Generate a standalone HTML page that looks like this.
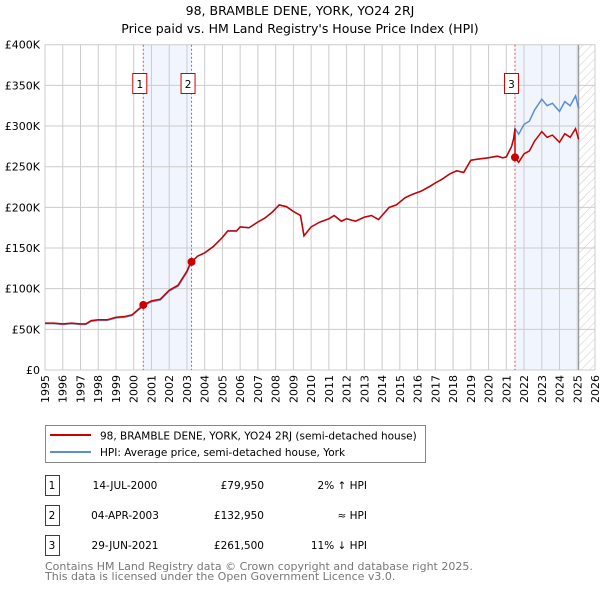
<!DOCTYPE html>
<html><head><meta charset="utf-8"><style>
body{margin:0;background:#fff;font-family:"DejaVu Sans","Liberation Sans",sans-serif;}
svg text{font-family:"DejaVu Sans","Liberation Sans",sans-serif;}
</style></head><body>
<svg id="c" width="600" height="590" xmlns="http://www.w3.org/2000/svg">
<defs><pattern id="hatch" width="6" height="6" patternUnits="userSpaceOnUse" patternTransform="rotate(45)"><line x1="0" y1="0" x2="0" y2="6" stroke="#ccc" stroke-width="1"/></pattern></defs>
<text x="300" y="15" text-anchor="middle" font-size="12.5">98, BRAMBLE DENE, YORK, YO24 2RJ</text>
<text x="300" y="33" text-anchor="middle" font-size="12.5">Price paid vs. HM Land Registry's House Price Index (HPI)</text>
<g id="plot"></g>
<g>
<rect x="45.5" y="425.5" width="380" height="37" fill="#fff" stroke="#888"/>
<line x1="50" y1="435" x2="91" y2="435" stroke="#cc0000" stroke-width="2"/>
<text x="100" y="439.5" font-size="10.5">98, BRAMBLE DENE, YORK, YO24 2RJ (semi-detached house)</text>
<line x1="50" y1="452" x2="91" y2="452" stroke="#5b8fd4" stroke-width="2"/>
<text x="100" y="456" font-size="10.5">HPI: Average price, semi-detached house, York</text>
</g>
<g id="table" font-size="10.5"></g>
<text x="45" y="570" font-size="11" fill="#777">Contains HM Land Registry data © Crown copyright and database right 2025.</text>
<text x="45" y="580" font-size="11" fill="#777">This data is licensed under the Open Government Licence v3.0.</text>
</svg>
<script>
const hpiYears=[1995,1995.5,1996,1996.5,1997,1997.3,1997.6,1998,1998.5,1999,1999.5,1999.9,2000.54,2001,2001.5,2002,2002.5,2003,2003.26,2003.6,2004,2004.5,2005,2005.3,2005.8,2006,2006.5,2007,2007.4,2007.8,2008.2,2008.6,2009,2009.4,2009.6,2010,2010.5,2011,2011.3,2011.7,2012,2012.5,2013,2013.4,2013.8,2014.4,2014.8,2015.3,2015.7,2016.2,2016.7,2017,2017.4,2017.8,2018.2,2018.6,2019,2019.3,2020,2020.5,2020.8,2021,2021.3,2021.42,2021.49,2021.7,2022,2022.3,2022.6,2023,2023.3,2023.6,2024,2024.3,2024.6,2024.9,2025.08];
const hpiValues=[57,57,56,57,56,56,60,61,61,64,65,67,79,84,86,97,103,120,133,140,144,152,163,171,171,176,175,182,187,194,203,201,195,190,165,176,182,186,190,183,186,183,188,190,185,200,203,212,216,220,226,230,235,241,245,243,258,259,261,263,261,262,275,285,297,290,302,306,320,333,325,328,318,330,325,337,322];
const saleDates=[2000.54,2003.26,2021.49];
const salePrices=[79.95,132.95,261.5];
const saleDateLabels=["14-JUL-2000","04-APR-2003","29-JUN-2021"];
const salePriceLabels=["£79,950","£132,950","£261,500"];
const saleHpiLabels=["2% \u2191 HPI","\u2248 HPI","11% \u2193 HPI"];
const yTicks=[0,50,100,150,200,250,300,350,400];
const yTickLabels=["£0","£50K","£100K","£150K","£200K","£250K","£300K","£350K","£400K"];
const xTicks=[1995,1996,1997,1998,1999,2000,2001,2002,2003,2004,2005,2006,2007,2008,2009,2010,2011,2012,2013,2014,2015,2016,2017,2018,2019,2020,2021,2022,2023,2024,2025,2026];
const dataEnd=2025.08;

const L=45,R=595,T=44.7,B=370;
const X=v=>L+(v-1995)/(2026-1995)*(R-L);
const Y=v=>B-v/400*(B-T);
const NS="http://www.w3.org/2000/svg";
const plot=document.getElementById('plot');
function mk(tag,attrs,parent){const e=document.createElementNS(NS,tag);for(const k in attrs)e.setAttribute(k,attrs[k]);(parent||plot).appendChild(e);return e;}
let s=mk('rect',{x:X(saleDates[0]),y:T,width:X(saleDates[1])-X(saleDates[0]),height:B-T,fill:'#eef3fc',opacity:0.8});


s=mk('rect',{x:X(saleDates[2]),y:T,width:X(dataEnd)-X(saleDates[2]),height:B-T,fill:'#eef3fc',opacity:0.8});


s=mk('rect',{x:X(dataEnd),y:T,width:R-X(dataEnd),height:B-T,fill:'url(#hatch)'});


xTicks.forEach((t,i)=>{
 const g=mk('line',{x1:X(t),x2:X(t),y1:T,y2:B,stroke:'#ccc','stroke-width':1});
 
 
 const tx=mk('text',{x:0,y:0,'font-size':11,'text-anchor':'end',transform:`translate(${X(t)+4},${B+5}) rotate(-90)`});
 tx.textContent=t;
 
 
});
yTicks.forEach((t,i)=>{
 const g=mk('line',{x1:L,x2:R,y1:Y(t),y2:Y(t),stroke:'#ccc','stroke-width':1});
 
 
 const tx=mk('text',{x:L-5,y:Y(t)+4,'font-size':11,'text-anchor':'end'});
 tx.textContent=yTickLabels[i];
 
 
});
s=mk('line',{x1:X(dataEnd),x2:X(dataEnd),y1:T,y2:B,stroke:'#888','stroke-width':1});


saleDates.forEach((d,i)=>{
 const v=mk('line',{x1:X(d),x2:X(d),y1:T,y2:B,stroke:'#e05050','stroke-width':1,'stroke-dasharray':'2,2'});
 
 
 const r=mk('rect',{x:X(d)-10.5,y:73.5,width:14,height:20,fill:'#fff',stroke:'#cc0000'});
 
 
 const t=mk('text',{x:X(d)-3.5,y:88,'font-size':10.5,'text-anchor':'middle'});
 t.textContent=String(i+1);
 
 
});
function hpiAt(d){for(let i=1;i<hpiYears.length;i++){if(d<=hpiYears[i]){const f=(d-hpiYears[i-1])/(hpiYears[i]-hpiYears[i-1]);return hpiValues[i-1]+f*(hpiValues[i]-hpiValues[i-1]);}}return hpiValues[hpiValues.length-1];}
const hpiPts=hpiYears.map((y,i)=>X(y).toFixed(1)+','+Y(hpiValues[i]).toFixed(1)).join(' ');
s=mk('polyline',{points:hpiPts,fill:'none',stroke:'#5b8fd4','stroke-width':1.5});


function ratioAt(d){let r=salePrices[0]/hpiAt(saleDates[0]);for(let i=0;i<saleDates.length;i++){if(d>=saleDates[i])r=salePrices[i]/hpiAt(saleDates[i]);}return r;}
let pp=[];
hpiYears.forEach((y,i)=>{
 saleDates.forEach((d,j)=>{const prev=i>0?hpiYears[i-1]:-1e9;if(d>prev&&d<=y&&d!==y){pp.push([d,hpiAt(d)*ratioAt(d-1e-6)]);pp.push([d,salePrices[j]]);}});
 if(saleDates.includes(y)){pp.push([y,hpiValues[i]*ratioAt(y-1e-6)]);}
 pp.push([y,hpiValues[i]*ratioAt(y)]);
});
s=mk('polyline',{points:pp.map(p=>X(p[0]).toFixed(1)+','+Y(p[1]).toFixed(1)).join(' '),fill:'none',stroke:'#cc0000','stroke-width':1.5});


saleDates.forEach((d,i)=>{
 const c=mk('circle',{cx:X(d),cy:Y(salePrices[i]),r:4,fill:'#cc0000'});
 
 
});
const tb=document.getElementById('table');
saleDates.forEach((d,i)=>{
 const y=475+i*30;
 const r=mk('rect',{x:45.5,y:y+0.5,width:14,height:20,fill:'#fff',stroke:'#cc0000'},tb);
 
 
 const cells=[[52,'middle',String(i+1)],[125,'middle',saleDateLabels[i]],[264,'end',salePriceLabels[i]],[367,'end',saleHpiLabels[i]]];
 const names=['number','date','price','hpi-diff'];
 cells.forEach((c,k)=>{
  const t=mk('text',{x:c[0],y:y+14,'text-anchor':c[1]},tb);
  t.textContent=c[2];
  
  
 });
});
</script>
</body></html>
